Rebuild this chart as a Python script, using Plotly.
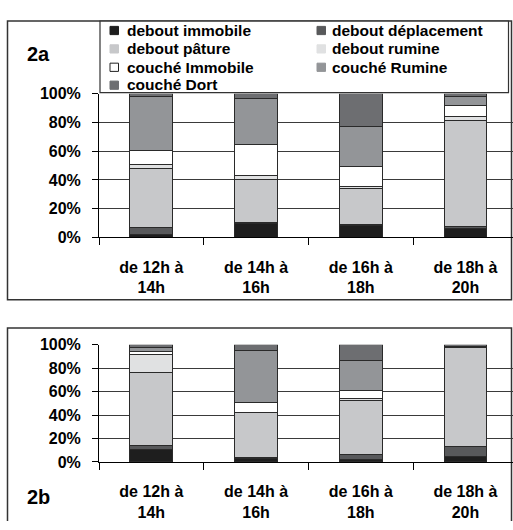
import plotly.graph_objects as go

W, H = 513, 530

categories = ["de 12h à<br>14h", "de 14h à<br>16h", "de 16h à<br>18h", "de 18h à<br>20h"]
series_names = ["debout immobile", "debout déplacement", "debout pâture", "debout rumine",
                "couché Immobile", "couché Rumine", "couché Dort"]
colors = ["#1e1e1e", "#58595b", "#c7c8ca", "#e0e1e2", "#ffffff", "#939598", "#6d6e71"]

# Panel 2a (percent)
a_debout_immobile = [2.0, 9.6, 8.5, 6.0]
a_debout_deplacement = [4.7, 0.7, 0.7, 1.6]
a_debout_pature = [41.3, 30.3, 24.7, 73.4]
a_debout_rumine = [2.7, 2.3, 1.6, 3.2]
a_couche_immobile = [10.1, 21.7, 14.1, 7.4]
a_couche_rumine = [37.0, 32.2, 27.6, 6.2]
a_couche_dort = [2.2, 3.2, 22.8, 2.2]

# Panel 2b (percent)
b_debout_immobile = [11.0, 3.3, 2.5, 4.7]
b_debout_deplacement = [2.8, 0.3, 3.6, 8.3]
b_debout_pature = [62.2, 38.4, 46.4, 84.8]
b_debout_rumine = [15.7, 0.3, 1.5, 0.3]
b_couche_immobile = [2.8, 8.8, 6.9, 0.2]
b_couche_rumine = [3.3, 43.9, 25.7, 0.3]
b_couche_dort = [2.2, 5.0, 13.4, 1.4]

a_series = [a_debout_immobile, a_debout_deplacement, a_debout_pature, a_debout_rumine,
            a_couche_immobile, a_couche_rumine, a_couche_dort]
b_series = [b_debout_immobile, b_debout_deplacement, b_debout_pature, b_debout_rumine,
            b_couche_immobile, b_couche_rumine, b_couche_dort]

y_ticks = [0, 20, 40, 60, 80, 100]
y_tick_labels = ["0%", "20%", "40%", "60%", "80%", "100%"]


def px_x(p):
    return p / W


def px_y(p):
    return 1 - p / H


FONT = "Liberation Sans, Arial, sans-serif"
EDGE = "#2a2a2a"

fig = go.Figure()
for name, col, vals in zip(series_names, colors, a_series):
    fig.add_trace(go.Bar(x=categories, y=vals, name=name, marker_color=col,
                         marker_line=dict(color=EDGE, width=1),
                         width=0.41, xaxis="x", yaxis="y", showlegend=False))
for name, col, vals in zip(series_names, colors, b_series):
    fig.add_trace(go.Bar(x=categories, y=vals, name=name, marker_color=col,
                         marker_line=dict(color=EDGE, width=1),
                         width=0.41, xaxis="x2", yaxis="y2", showlegend=False))

tickfont = dict(family=FONT, size=16, color="black", weight="bold")
xcommon = dict(type="category", range=[-0.5, 3.454], showline=True, linecolor="black",
               linewidth=1, ticks="outside", tickson="boundaries", ticklen=7,
               tickcolor="black", showgrid=False, zeroline=False,
               tickfont=tickfont, ticklabelstandoff=15)
ycommon = dict(range=[0, 100], tickmode="array", tickvals=y_ticks, ticktext=y_tick_labels,
               showline=True, linecolor="black", linewidth=1, ticks="outside", ticklen=6,
               tickcolor="black", showgrid=True, gridcolor="#3a3a3a", gridwidth=1,
               zeroline=False, tickfont=tickfont, ticklabelstandoff=8)

fig.update_layout(
    width=W, height=H, margin=dict(l=0, r=0, t=0, b=0),
    paper_bgcolor="white", plot_bgcolor="white", barmode="stack", bargap=0,
    font=dict(family=FONT, color="black"),
    xaxis=dict(domain=[px_x(99), 1], anchor="y", **xcommon),
    yaxis=dict(domain=[px_y(237), px_y(88.5)], anchor="x", **ycommon),
    xaxis2=dict(domain=[px_x(99), 1], anchor="y2", **xcommon),
    yaxis2=dict(domain=[px_y(469), px_y(348)], anchor="x2", **ycommon),
    showlegend=False,
)

# Frames
fig.add_shape(type="rect", xref="paper", yref="paper", x0=px_x(7.5), x1=px_x(511.5),
              y0=px_y(301.5), y1=px_y(13.5), line=dict(color="#333", width=1.5), layer="below")
fx0, fx1, fy0, fy1 = px_x(7.5), px_x(511.5), px_y(330.5), 0
fig.add_shape(type="path", xref="paper", yref="paper",
              path=f"M {fx0},{fy1} L {fx0},{fy0} L {fx1},{fy0} L {fx1},{fy1}",
              line=dict(color="#333", width=1.5), layer="below")
# Legend box
fig.add_shape(type="rect", xref="paper", yref="paper", x0=px_x(100), x1=px_x(508.5),
              y0=px_y(87.5), y1=px_y(13.5), line=dict(color="#333", width=1.2),
              fillcolor="white", layer="above")

# Legend entries (two columns, row-major)
leg_col_marker = [110, 317]
leg_col_text = [125, 330]
leg_rows = [23, 42, 61, 79.5]
for i, (name, col) in enumerate(zip(series_names, colors)):
    r, c = divmod(i, 2)
    mx, ty = leg_col_marker[c], leg_rows[r]
    fig.add_shape(type="rect", xref="paper", yref="paper",
                  x0=px_x(mx), x1=px_x(mx + 8.5), y0=px_y(ty + 4.5), y1=px_y(ty - 4),
                  fillcolor=col, line=dict(color="#222" if col == "#ffffff" else col, width=1),
                  layer="above")
    fig.add_annotation(text=name, xref="paper", yref="paper", x=px_x(leg_col_text[c]),
                       y=px_y(ty), xanchor="left", yanchor="middle", showarrow=False,
                       font=dict(family=FONT, size=15.5, color="black", weight="bold"))

fig.add_annotation(text="<b>2a</b>", xref="paper", yref="paper", x=px_x(38), y=px_y(48),
                   xanchor="center", yanchor="middle",
                   showarrow=False, font=dict(family=FONT, size=20, color="black"))
fig.add_annotation(text="<b>2b</b>", xref="paper", yref="paper", x=px_x(38), y=px_y(505),
                   xanchor="center", yanchor="middle",
                   showarrow=False, font=dict(family=FONT, size=20, color="black"))

fig.write_html("out.html", config={"displayModeBar": False, "staticPlot": True},
               post_script="document.body.style.margin='0';document.body.style.overflow='hidden';")
